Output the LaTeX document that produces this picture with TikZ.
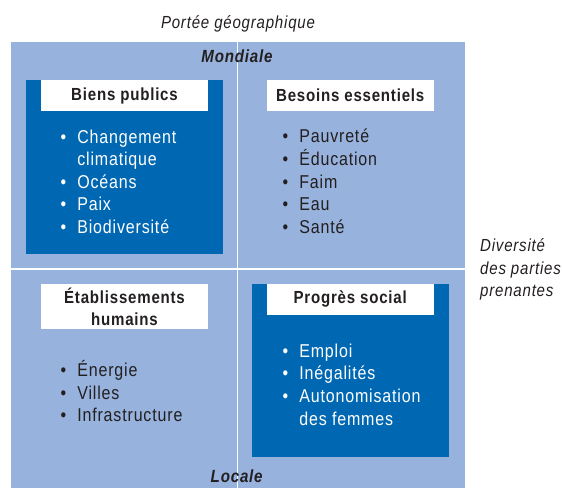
\documentclass[tikz,border=0pt]{standalone}
\usepackage{fontspec}
\setmainfont{Liberation Sans}[FakeStretch=0.86,LetterSpace=4.5]
\definecolor{lightbl}{RGB}{151,178,220}
\definecolor{darkbl}{RGB}{0,104,179}
\definecolor{ink}{RGB}{35,31,32}
\newcommand{\itemsfont}{\fontsize{18.6}{22.6}\selectfont}
\newcommand{\bul}{\textbullet}
\begin{document}
\begin{tikzpicture}[x=1pt,y=-1pt,
  panel/.style={fill=darkbl, draw=none},
  titlebox/.style={fill=white, draw=none, inner sep=0, minimum width=167,
    font=\bfseries\fontsize{17.5}{22}\selectfont, text=ink, align=center},
  itemlist/.style={anchor=base west, inner sep=0, font=\itemsfont},
  axislabel/.style={font=\itshape\fontsize{17.5}{22.5}\selectfont, text=ink, inner sep=0},
  pole/.style={font=\bfseries\itshape\fontsize{17.6}{22}\selectfont, text=ink, inner sep=0, anchor=base},
  divider/.style={draw=white, line width=1.2pt}]
\useasboundingbox (0,0) rectangle (562,488);
% background field
\fill[lightbl] (11,42) rectangle (465,488);
\coordinate (vtop) at (237.3,42);
\coordinate (vbot) at (237.3,488);
\coordinate (hl) at (11,269);
\coordinate (hr) at (465,269);
\draw[divider] (vtop) -- (vbot);
\draw[divider] (hl) -- (hr);
% dark panels
\fill[panel] (26,80) rectangle (223,254);
\fill[panel] (252,284) rectangle (449,457);
% titles
\node[titlebox, minimum height=31] (t1) at (124.5,95.5) {Biens publics};
\node[titlebox, minimum height=31] (t2) at (350.2,95.3) {Besoins essentiels};
\node[titlebox, minimum height=45] (t3) at (124.5,306.5) {Établissements\\humains};
\node[titlebox, minimum height=31] (t4) at (350.2,299.3) {Progrès social};
% lists
\node[itemlist, text=white] (l1) at (60.5,143) {\begin{tabular}[t]{@{}l@{\hspace{11pt}}l@{}}
\bul & Changement\\ & climatique\\ \bul & Océans\\ \bul & Paix\\ \bul & Biodiversité\end{tabular}};
\node[itemlist, text=ink] (l2) at (282.5,142.7) {\begin{tabular}[t]{@{}l@{\hspace{11pt}}l@{}}
\bul & Pauvreté\\ \bul & Éducation\\ \bul & Faim\\ \bul & Eau\\ \bul & Santé\end{tabular}};
\node[itemlist, text=ink] (l3) at (60.5,376.5) {\begin{tabular}[t]{@{}l@{\hspace{11pt}}l@{}}
\bul & Énergie\\ \bul & Villes\\ \bul & Infrastructure\end{tabular}};
\node[itemlist, text=white] (l4) at (282.5,357.3) {\begin{tabular}[t]{@{}l@{\hspace{11pt}}l@{}}
\bul & Emploi\\ \bul & Inégalités\\ \bul & Autonomisation\\ & des femmes\end{tabular}};
% axis labels
\node[axislabel, anchor=base] (geo) at (238,28) {Portée géographique};
\node[axislabel, anchor=base west] (div) at (480,251.8) {\begin{tabular}[t]{@{}l@{}}Diversité\\des parties\\prenantes\end{tabular}};
\node[pole] (mond) at (237,62.7) {Mondiale};
\node[pole] (loc) at (236.7,482.7) {Locale};
\end{tikzpicture}
\end{document}
